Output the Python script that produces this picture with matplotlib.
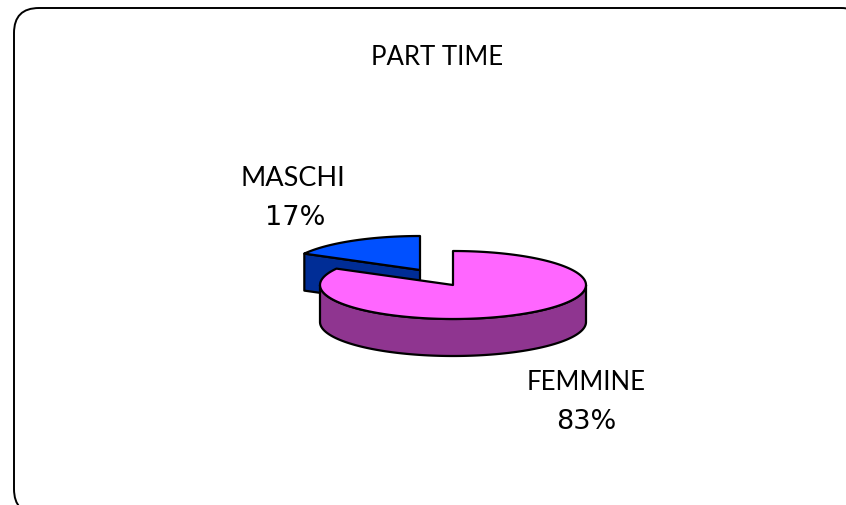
import numpy as np
import matplotlib
matplotlib.use('Agg')
import matplotlib.pyplot as plt
from matplotlib.patches import FancyBboxPatch, Polygon

plt.rcParams['font.family'] = ['Lato', 'DejaVu Sans']

titolo = 'PART TIME'
categorie = ['MASCHI', 'FEMMINE']
valori = [17, 83]
colori_top = ['#0050FF', '#FF66FF']
colori_lato = ['#002D96', '#8F3590']


def arco(cx, cy, rx, ry, a0, a1, n=200):
    # punti sull'ellisse, angoli in gradi (y verso il basso nello schermo)
    t = np.radians(np.linspace(a0, a1, n))
    return np.column_stack([cx + rx * np.cos(t), cy - ry * np.sin(t)])


fig = plt.figure(figsize=(8.46, 5.05), dpi=100)
ax = fig.add_axes([0, 0, 1, 1])
ax.set_xlim(0, 846)
ax.set_ylim(505, 0)
ax.axis('off')

# cornice arrotondata, tagliata a destra e in basso
ax.add_patch(FancyBboxPatch((14, 8), 852, 506, boxstyle='round,pad=0,rounding_size=25',
                            fc='white', ec='black', lw=1.4))

rx, ry, prof = 133, 34, 37
lw = 1.6
totale = sum(valori)
fetta_m = valori[0] / totale * 360
a_taglio = 90 + fetta_m

# fetta MASCHI (staccata)
cx, cy = 420, 270
top = arco(cx, cy, rx - 1, ry, 90, a_taglio)
p_est = top[-1]
ax.add_patch(Polygon([p_est, (cx, cy), (cx, cy + prof), p_est + [0, prof]],
                     fc=colori_lato[0], ec='black', lw=lw, joinstyle='round', zorder=2))
ax.add_patch(Polygon(np.vstack([[cx, cy], top]), fc=colori_top[0], ec='black', lw=lw,
                     joinstyle='round', zorder=3))

# fetta FEMMINE
cx, cy = 453, 285
lato = np.vstack([arco(cx, cy, rx, ry, 180, 360), arco(cx, cy + prof, rx, ry, 360, 180)])
ax.add_patch(Polygon(lato, fc=colori_lato[1], ec='black', lw=lw, joinstyle='round', zorder=4))
top = arco(cx, cy, rx, ry, a_taglio, 450)
ax.add_patch(Polygon(np.vstack([[cx, cy], top]), fc=colori_top[1], ec='black', lw=lw,
                     joinstyle='round', zorder=5))

# testi
ax.text(437, 55, titolo, ha='center', va='center_baseline', fontsize=18.5, zorder=6)
ax.text(293, 176, categorie[0], ha='center', va='center_baseline', fontsize=19.5, zorder=6)
ax.text(295, 215, f'{valori[0]}%', ha='center', va='center_baseline', fontsize=19.5,
        family='DejaVu Sans', zorder=6)
ax.text(586, 380, categorie[1], ha='center', va='center_baseline', fontsize=18.5, zorder=6)
ax.text(586, 419, f'{valori[1]}%', ha='center', va='center_baseline', fontsize=19.5,
        family='DejaVu Sans', zorder=6)

fig.savefig('out.png', dpi=100)
